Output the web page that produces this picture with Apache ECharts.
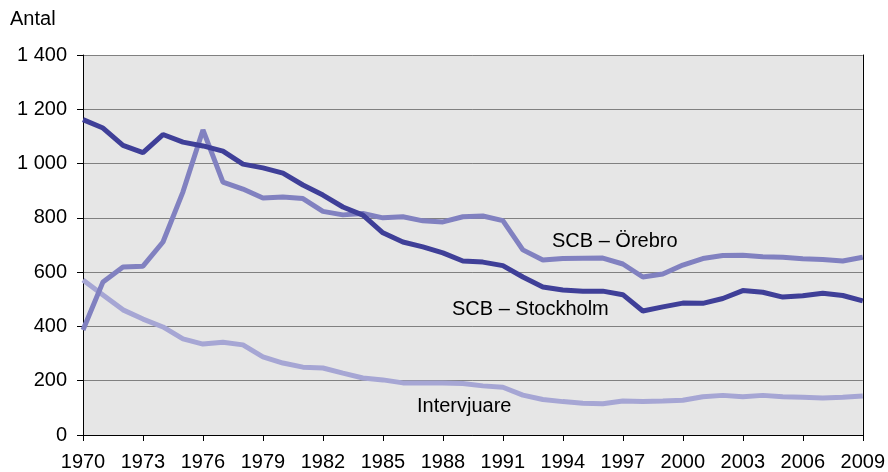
<!DOCTYPE html>
<html>
<head>
<meta charset="utf-8">
<script src="https://cdn.jsdelivr.net/npm/echarts@6/dist/echarts.min.js"></script>
<style>
  html, body { margin: 0; padding: 0; background: #fff; }
  #chart { width: 888px; height: 472px; }
</style>
</head>
<body>
<div id="chart"></div>
<script>
const years = [];
for (let y = 1970; y <= 2009; y++) years.push(String(y));

const stockholm = [1162, 1131, 1067, 1040, 1107, 1079, 1065, 1046, 998, 984,
  965, 921, 884, 840, 810, 745, 711, 693, 671, 641,
  637, 624, 582, 545, 534, 530, 530, 517, 457, 472,
  486, 485, 503, 532, 526, 508, 513, 522, 514, 494];

const orebro = [387, 564, 619, 622, 711, 896, 1124, 932, 906, 873,
  877, 871, 824, 811, 816, 800, 804, 789, 785, 804,
  807, 790, 682, 645, 650, 651, 652, 630, 582, 593,
  626, 650, 661, 662, 657, 655, 649, 647, 641, 655];

const intervjuare = [571, 516, 461, 427, 398, 354, 335, 342, 332, 288,
  265, 250, 247, 228, 210, 203, 192, 192, 192, 190,
  181, 176, 147, 131, 123, 117, 115, 125, 123, 125,
  128, 141, 146, 141, 146, 141, 139, 136, 139, 144];

const seriesNames = ["SCB – Stockholm", "SCB – Örebro", "Intervjuare"];
const seriesColors = ["#3f3f98", "#8181c0", "#a6a6d4"];

const chart = echarts.init(document.getElementById("chart"));

const font = "'Liberation Sans', Arial, sans-serif";

const mkLine = (name, data, color) => ({
  name: name,
  type: "line",
  data: data,
  symbol: "none",
  lineStyle: { color: color, width: 5 },
  itemStyle: { color: color },
  z: 3,
});

const option = {
  animation: false,
  backgroundColor: "#fff",
  grid: {
    left: 83, right: 25, top: 55, bottom: 37,
    show: true, backgroundColor: "#e6e6e6", borderWidth: 0,
  },
  xAxis: {
    type: "category",
    data: years,
    boundaryGap: false,
    axisLine: { lineStyle: { color: "#000", width: 1 } },
    axisTick: { interval: 2, length: 6, lineStyle: { color: "#000" } },
    axisLabel: { interval: 2, color: "#000", fontSize: 20, fontFamily: font, margin: 17 },
    splitLine: { show: false },
  },
  yAxis: [
    {
      type: "value",
      min: 0, max: 1400, interval: 200,
      axisLine: { show: true, lineStyle: { color: "#000", width: 1 } },
      axisTick: { show: true, length: 6, lineStyle: { color: "#000" } },
      axisLabel: {
        color: "#000", fontSize: 20, fontFamily: font, margin: 16,
        formatter: (v) => String(v).replace(/\B(?=(\d{3})+(?!\d))/g, " "),
      },
      splitLine: { lineStyle: { color: "#808080", width: 1 } },
    },
    {
      type: "value",
      position: "right",
      min: 0, max: 1400, interval: 200,
      axisLine: { show: true, lineStyle: { color: "#000", width: 1 } },
      axisTick: { show: false },
      axisLabel: { show: false },
      splitLine: { show: false },
    },
  ],
  series: [
    mkLine(seriesNames[2], intervjuare, seriesColors[2]),
    mkLine(seriesNames[1], orebro, seriesColors[1]),
    mkLine(seriesNames[0], stockholm, seriesColors[0]),
  ],
  graphic: [
    { type: "text", left: 10, top: 9, style: { text: "Antal", fill: "#000", font: "20px " + font } },
    { type: "text", left: 552, top: 231, style: { text: "SCB – Örebro", fill: "#000", font: "20px " + font } },
    { type: "text", left: 452, top: 299, style: { text: "SCB – Stockholm", fill: "#000", font: "20px " + font } },
    { type: "text", left: 417, top: 396, style: { text: "Intervjuare", fill: "#000", font: "20px " + font } },
  ],
};

chart.setOption(option);
</script>
</body>
</html>
